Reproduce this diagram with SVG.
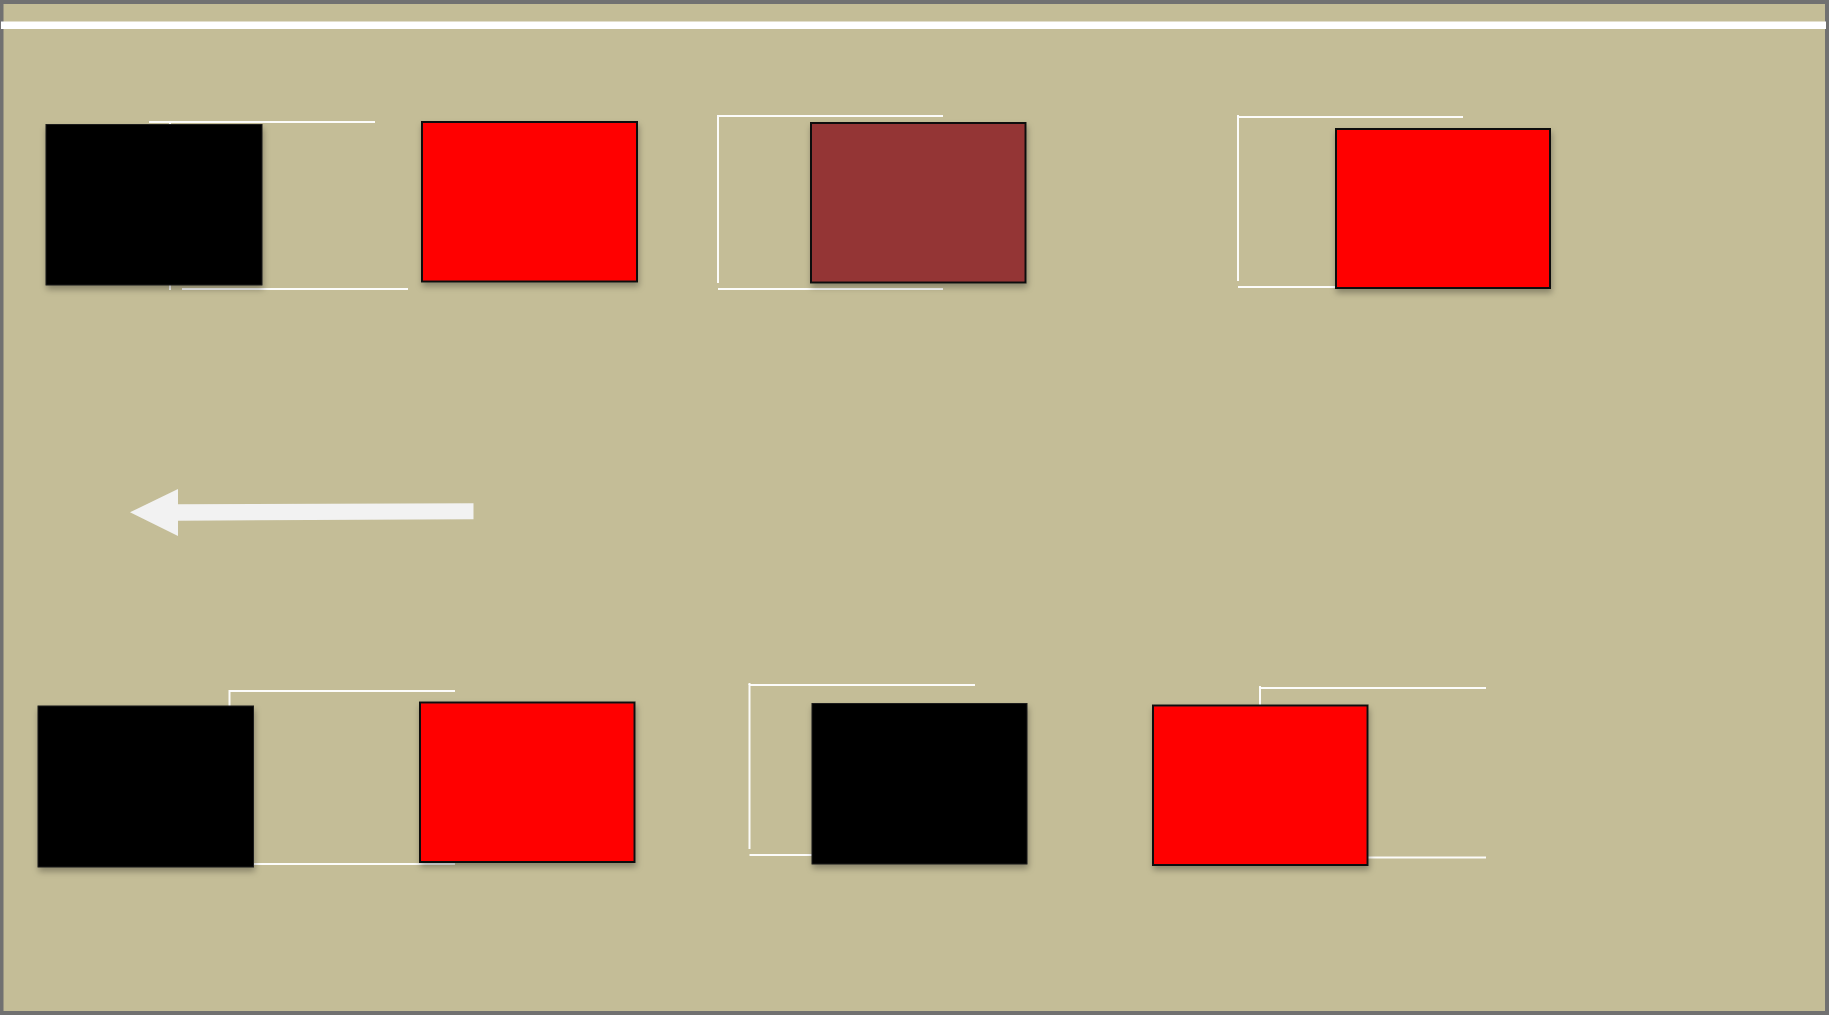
<svg xmlns="http://www.w3.org/2000/svg" width="1829" height="1015" viewBox="0 0 1829 1015">
<style>
.bg{fill:#c4bd97}
.frame{fill:none;stroke:#717171;stroke-width:4}
.wl{stroke:#ffffff;stroke-width:2;fill:none;stroke-opacity:0.95}
.blk{fill:#000000;stroke:#1a1a1a;stroke-width:1;filter:url(#sh)}
.red{fill:#ff0000;stroke:#111111;stroke-width:2;filter:url(#sh)}
.brn{fill:#943636;stroke:#111111;stroke-width:2;filter:url(#sh)}
</style>
<defs>
<filter id="sh" x="-10%" y="-10%" width="125%" height="130%">
<feDropShadow dx="1" dy="4" stdDeviation="3" flood-color="#000000" flood-opacity="0.3"/>
</filter>
</defs>
<rect class="bg" x="0" y="0" width="1829" height="1015"/>
<rect class="frame" x="1.5" y="2" width="1825.5" height="1011"/>
<rect x="1" y="21.5" width="1825" height="7.5" fill="#ffffff"/>
<g id="connectors">
<polyline class="wl" points="149,122 375,122"/>
<line class="wl" x1="170" y1="122" x2="170" y2="126"/>
<line class="wl" x1="170" y1="284" x2="170" y2="290"/>
<polyline class="wl" points="182,289 408,289"/>
<polyline class="wl" points="943,116 718,116 718,283"/>
<line class="wl" x1="718" y1="289" x2="943" y2="289"/>
<polyline class="wl" points="1463,117 1238,117 1238,281"/>
<line class="wl" x1="1238" y1="115" x2="1238" y2="117"/>
<line class="wl" x1="1238" y1="287" x2="1340" y2="287"/>
<polyline class="wl" points="455,691 229.5,691 229.5,708"/>
<line class="wl" x1="250" y1="864" x2="455" y2="864"/>
<polyline class="wl" points="975,685 749.5,685 749.5,849"/>
<line class="wl" x1="749.5" y1="683" x2="749.5" y2="685"/>
<line class="wl" x1="749.5" y1="855" x2="815" y2="855"/>
<polyline class="wl" points="1486,688 1260,688 1260,708"/>
<line class="wl" x1="1260" y1="686" x2="1260" y2="688"/>
<line class="wl" x1="1365" y1="857.5" x2="1486" y2="857.5"/>
<polygon points="130,512.3 178,489 178,504.3 473.5,503.3 473.5,519.3 178,520.7 178,536" fill="#f2f2f2"/>
</g>
<g id="node-black-1"><rect class="blk" x="46" y="124.5" width="216" height="160.5"/></g>
<g id="node-red-1"><rect class="red" x="422" y="122" width="215" height="159.5"/></g>
<g id="node-brown-1"><rect class="brn" x="811" y="123" width="214.5" height="159.5"/></g>
<g id="node-red-2"><rect class="red" x="1336" y="129" width="214" height="159"/></g>
<g id="node-black-2"><rect class="blk" x="38" y="706" width="215.5" height="161"/></g>
<g id="node-red-3"><rect class="red" x="420" y="702.5" width="214.5" height="159.5"/></g>
<g id="node-black-3"><rect class="blk" x="812" y="703.5" width="215" height="160.5"/></g>
<g id="node-red-4"><rect class="red" x="1153" y="705.5" width="214.5" height="159.5"/></g>
</svg>
